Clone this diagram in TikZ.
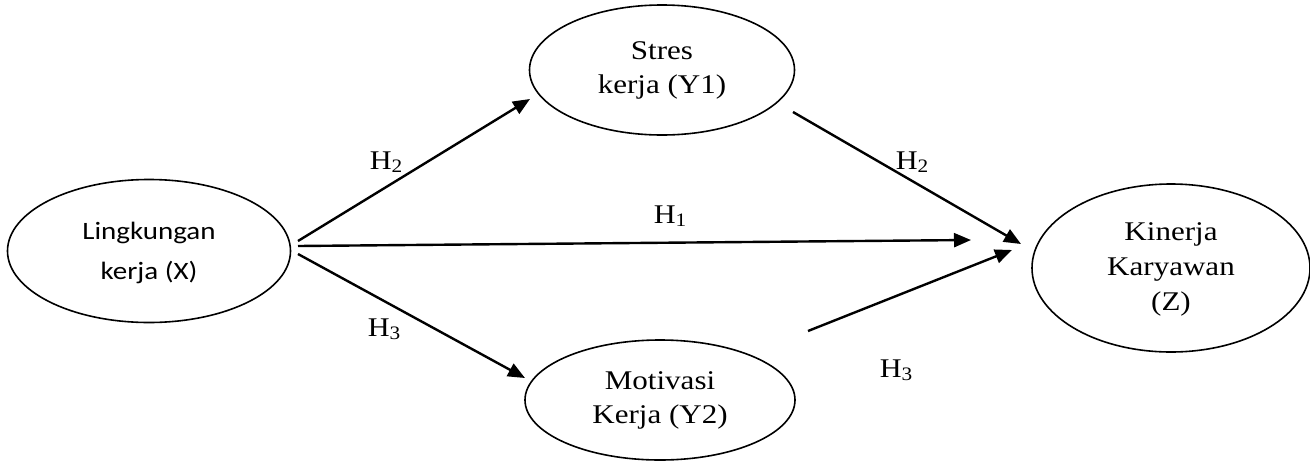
\documentclass[tikz,border=0pt]{standalone}
\usepackage{fontspec}
\setmainfont{Liberation Serif}
\newfontfamily\calib{Carlito}
\usetikzlibrary{shapes.geometric,arrows.meta}
\newcommand{\wide}[2]{\scalebox{#1}[1]{\begin{tabular}{@{}c@{}}#2\end{tabular}}}
\newcommand{\hyp}[1]{\scalebox{1.12}[1]{H\raisebox{-2.5pt}{\fontsize{19}{19}\selectfont #1}}}
\begin{document}
\begin{tikzpicture}[x=1pt,y=-1pt,
  var/.style={draw,ellipse,line width=1.6pt,inner sep=0pt,align=center,font=\fontsize{27}{34}\selectfont},
  arr/.style={line width=2.4pt,-{Triangle[length=17pt,width=14pt]}},
  hlab/.style={font=\fontsize{27}{30}\selectfont,inner sep=0pt}]
\useasboundingbox (0,0) rectangle (1310,464);
\node[var,minimum width=283pt,minimum height=143pt,font=\calib\fontsize{25}{40}\selectfont] (x) at (149,251) {\wide{1.16}{Lingkungan\\kerja (X)}};
\node[var,minimum width=265pt,minimum height=130pt] (y1) at (662,70) {\wide{1.15}{Stres\\kerja (Y1)}};
\node[var,minimum width=270pt,minimum height=120pt] (y2) at (660,400) {\wide{1.15}{Motivasi\\Kerja (Y2)}};
\node[var,minimum width=278pt,minimum height=168pt,font=\fontsize{27}{35}\selectfont] (z) at (1171,268) {\wide{1.15}{Kinerja\\Karyawan\\(Z)}};
\coordinate (xa) at (298,241);
\coordinate (xb) at (298,246);
\coordinate (xc) at (298,254);
\coordinate (y1t) at (530,99);
\coordinate (y1o) at (793,112);
\coordinate (zt1) at (1021,244);
\coordinate (zt0) at (971,240);
\coordinate (y2t) at (525,378);
\coordinate (y2o) at (808,331);
\coordinate (zt2) at (1012,250);
\draw[arr] (xa) -- (y1t);
\draw[arr] (xb) -- (zt0);
\draw[arr] (xc) -- (y2t);
\draw[arr] (y1o) -- (zt1);
\draw[arr] (y2o) -- (zt2);
\node[hlab] (h2a) at (386,162) {\hyp{2}};
\node[hlab] (h2b) at (912,162) {\hyp{2}};
\node[hlab] (h1) at (670,216) {\hyp{1}};
\node[hlab] (h3a) at (384,329) {\hyp{3}};
\node[hlab] (h3b) at (896,370) {\hyp{3}};
\end{tikzpicture}
\end{document}
